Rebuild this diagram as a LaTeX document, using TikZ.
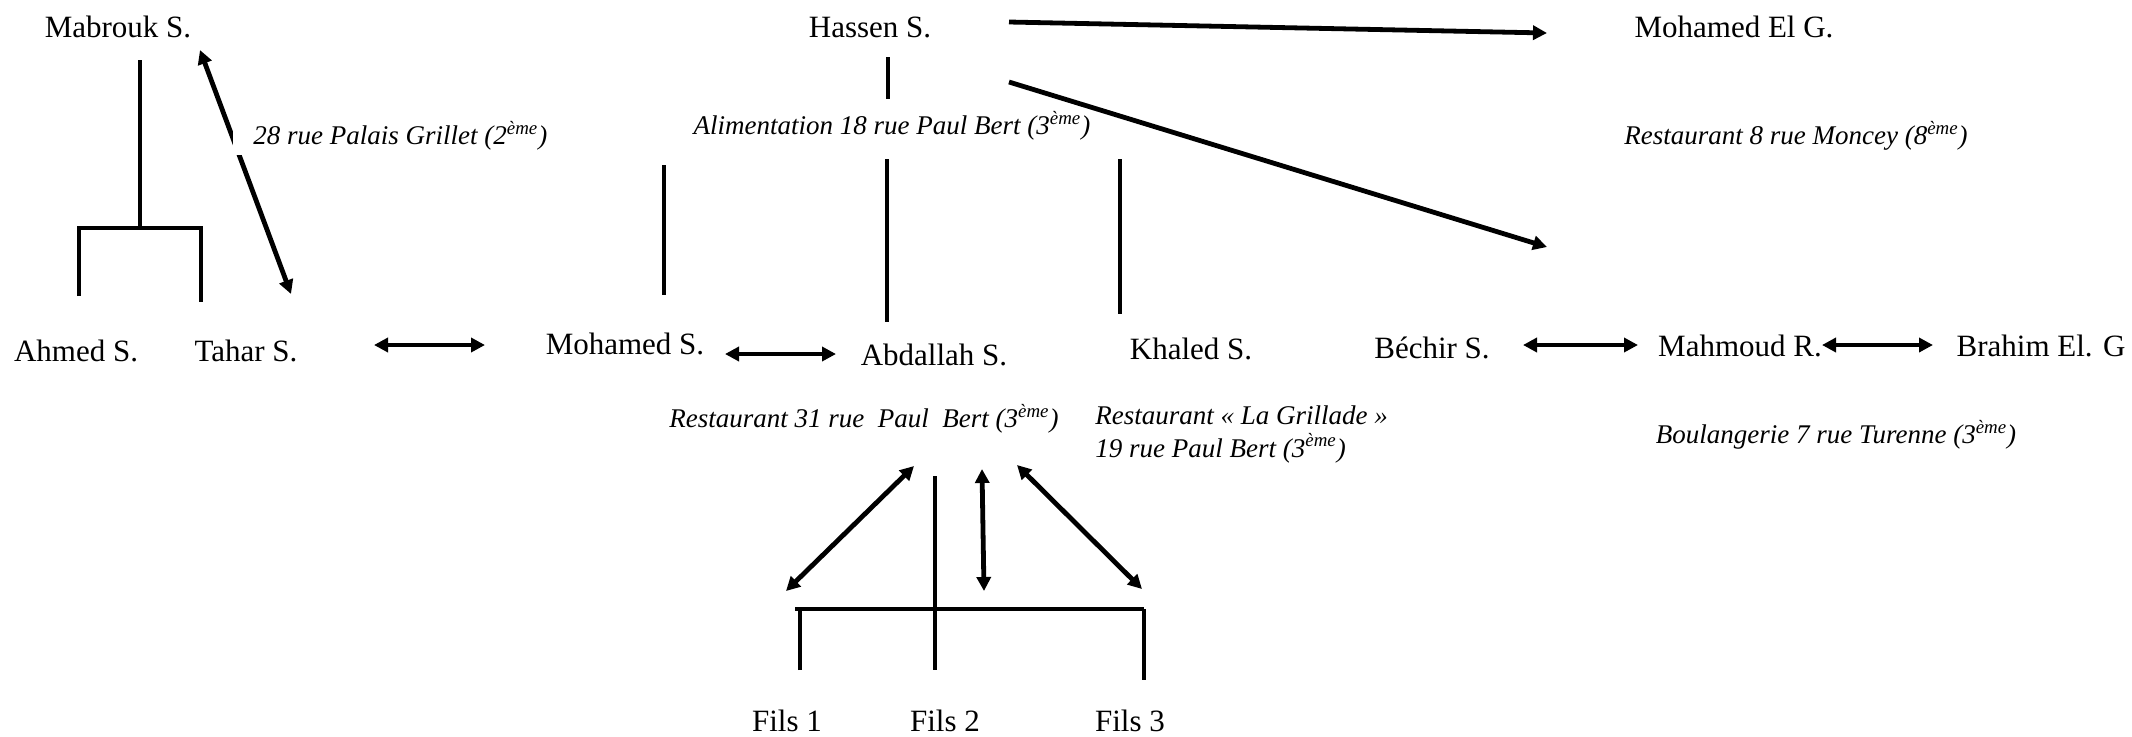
\documentclass[tikz,border=0pt]{standalone}
\usepackage{fontspec}
\setmainfont{Liberation Serif}
\usetikzlibrary{arrows.meta}

\begin{document}
\begin{tikzpicture}[x=0.5pt, y=-0.5pt,
  person/.style={inner sep=0pt, font=\fontsize{15.5}{18}\selectfont},
  shop/.style={inner sep=0pt, font=\fontsize{13.5}{16.5}\selectfont\itshape},
  link/.style={line width=2.4pt},
  tie/.style={link, {Triangle[length=7pt,width=7pt]}-{Triangle[length=7pt,width=7pt]}},
  lead/.style={link, -{Triangle[length=7pt,width=7pt]}}]
\useasboundingbox (0,0) rectangle (2132,736);

% persons
\node[person] (mabrouk) at (118,27) {Mabrouk S.};
\node[person] (hassen) at (870,27) {Hassen S.};
\node[person] (mohamedg) at (1734,27) {Mohamed El G.};
\node[person] (ahmed) at (76,351) {Ahmed S.};
\node[person] (tahar) at (246,351) {Tahar S.};
\node[person] (mohamed) at (625,344) {Mohamed S.};
\node[person] (abdallah) at (934,355) {Abdallah S.};
\node[person] (khaled) at (1191,349) {Khaled S.};
\node[person] (bechir) at (1432,348) {Béchir S.};
\node[person] (mahmoud) at (1740,346) {Mahmoud R.};
\node[person] (brahim) at (2041,346) {Brahim El. G};
\node[person] (fils1) at (787,721) {Fils 1};
\node[person] (fils2) at (945,721) {Fils 2};
\node[person] (fils3) at (1130,721) {Fils 3};

% shops
\node[shop] (alim) at (892,126) {Alimentation 18 rue Paul Bert (3\textsuperscript{ème})};
\node[shop] (moncey) at (1796,136) {Restaurant 8 rue Moncey (8\textsuperscript{ème})};
\node[shop] (rest31) at (864,419) {Restaurant 31 rue\ \ Paul\ \ Bert (3\textsuperscript{ème})};
\node[shop, align=left, anchor=west] (grillade) at (1095,434) {Restaurant « La Grillade »\\19 rue Paul Bert (3\textsuperscript{ème})};
\node[shop] (boul) at (1836,435) {Boulangerie 7 rue Turenne (3\textsuperscript{ème})};

% line ends
\coordinate (mtop) at (140,60);
\coordinate (mmid) at (140,228);
\coordinate (ml) at (79,228);
\coordinate (mr) at (201,228);
\coordinate (mlb) at (79,296);
\coordinate (mrb) at (201,302);
\coordinate (mt1) at (200,50);
\coordinate (mt2) at (291,294);
\coordinate (tm1) at (374,345);
\coordinate (tm2) at (485,345);
\coordinate (ma1) at (725,354);
\coordinate (ma2) at (836,354);
\coordinate (htop) at (888,57);
\coordinate (hbot) at (888,99);
\coordinate (v1a) at (664,165);
\coordinate (v1b) at (664,295);
\coordinate (v2a) at (887,159);
\coordinate (v2b) at (887,322);
\coordinate (v3a) at (1120,159);
\coordinate (v3b) at (1120,314);
\coordinate (hg1) at (1009,22);
\coordinate (hg2) at (1547,33);
\coordinate (hd1) at (1009,82);
\coordinate (hd2) at (1547,247);
\coordinate (bm1) at (1523,345);
\coordinate (bm2) at (1638,345);
\coordinate (mb1) at (1822,345);
\coordinate (mb2) at (1933,345);
\coordinate (fa1) at (914,466);
\coordinate (fa2) at (786,591);
\coordinate (fbtop) at (935,476);
\coordinate (fbbot) at (935,670);
\coordinate (fc1) at (982,469);
\coordinate (fc2) at (984,591);
\coordinate (fd1) at (1017,465);
\coordinate (fd2) at (1142,589);
\coordinate (fl) at (795,609);
\coordinate (fr) at (1144,609);
\coordinate (flb) at (800,670);
\coordinate (frb) at (1144,680);

% Mabrouk's family
\draw[link] (mtop) -- (mmid);
\draw[link] (mlb) -- (ml) -- (mr) -- (mrb);
\draw[tie] (mt1) -- (mt2);
\node[shop, fill=white, anchor=west, inner xsep=10pt, inner ysep=2pt] (palais) at (233,136) {28 rue Palais Grillet (2\textsuperscript{ème})};
\draw[tie] (tm1) -- (tm2);
\draw[tie] (ma1) -- (ma2);

% Hassen's family
\draw[link] (htop) -- (hbot);
\draw[link] (v1a) -- (v1b);
\draw[link] (v2a) -- (v2b);
\draw[link] (v3a) -- (v3b);
\draw[lead] (hg1) -- (hg2);
\draw[lead] (hd1) -- (hd2);
\draw[tie] (bm1) -- (bm2);
\draw[tie] (mb1) -- (mb2);

% sons
\draw[tie] (fa1) -- (fa2);
\draw[link] (fbtop) -- (fbbot);
\draw[tie] (fc1) -- (fc2);
\draw[tie] (fd1) -- (fd2);
\draw[link] (fl) -- (fr);
\draw[link] (flb) -- (fl -| flb);
\draw[link] (fr) -- (frb);

\end{tikzpicture}
\end{document}
